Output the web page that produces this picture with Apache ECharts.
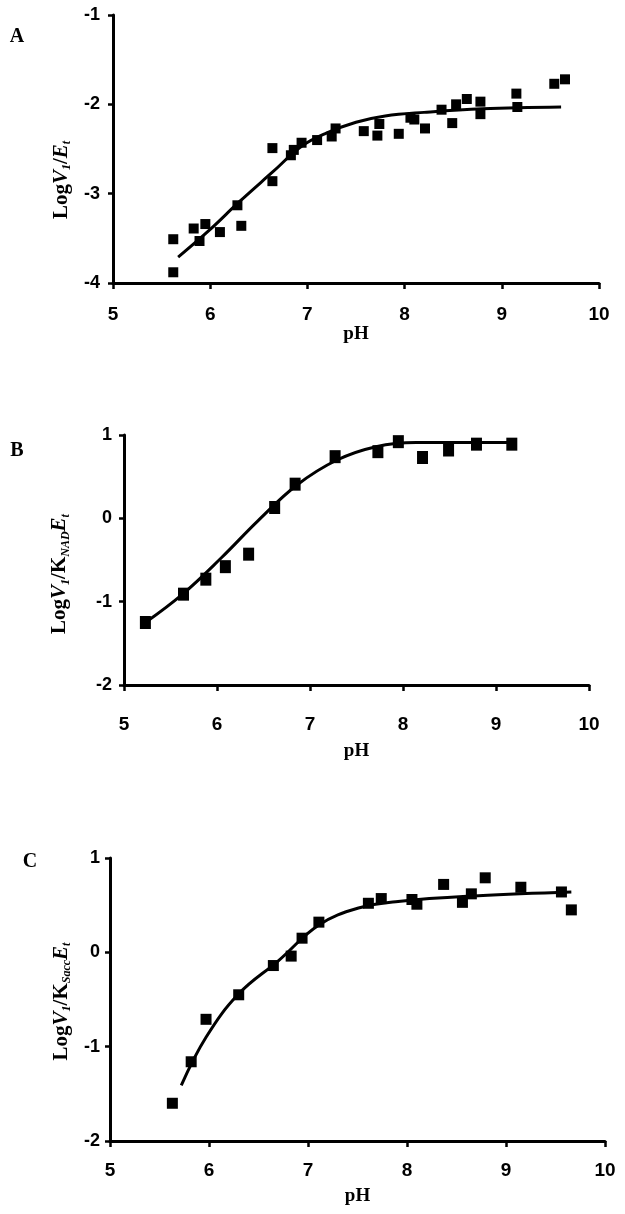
<!DOCTYPE html>
<html><head><meta charset="utf-8">
<script src="https://cdn.jsdelivr.net/npm/echarts@6/dist/echarts.min.js"></script>
<style>html,body{margin:0;padding:0;background:#fff}#c{width:625px;height:1214px}</style>
</head><body><div id="c"></div>
<script>
// ---- data ----
const phTicks = [5, 6, 7, 8, 9, 10];

// Panel A: Log V1/Et vs pH
const aPH  = [5.62,5.62,5.83,5.89,5.95,6.10,6.28,6.32,6.64,6.64,6.83,6.86,6.94,7.10,7.25,7.29,7.58,7.72,7.74,7.94,8.06,8.10,8.21,8.38,8.49,8.53,8.64,8.78,8.78,9.15,9.16,9.54,9.65];
const aVal = [-3.51,-3.88,-3.39,-3.53,-3.34,-3.43,-3.13,-3.36,-2.49,-2.86,-2.57,-2.51,-2.43,-2.40,-2.36,-2.27,-2.30,-2.35,-2.22,-2.33,-2.15,-2.17,-2.27,-2.06,-2.21,-2.00,-1.94,-1.97,-2.11,-1.88,-2.03,-1.77,-1.72];
const aFitPH  = [5.67,6.00,6.30,6.64,6.94,7.20,7.50,7.80,8.20,8.80,9.61];
const aFitVal = [-3.71,-3.40,-3.09,-2.76,-2.47,-2.32,-2.20,-2.13,-2.09,-2.05,-2.03];

// Panel B: Log V1/K_NAD Et vs pH
const bPH  = [5.23,5.64,5.88,6.09,6.34,6.62,6.84,7.27,7.73,7.95,8.21,8.49,8.79,9.17];
const bVal = [-1.25,-0.91,-0.73,-0.58,-0.43,0.13,0.41,0.74,0.80,0.92,0.73,0.82,0.89,0.89];
const bFitPH  = [5.23,5.64,6.05,6.44,6.86,7.29,7.71,8.14,9.20];
const bFitVal = [-1.25,-0.90,-0.47,-0.03,0.40,0.70,0.86,0.91,0.91];

// Panel C: Log V1/K_Sacc Et vs pH
const cPH  = [5.63,5.82,5.97,6.30,6.65,6.83,6.94,7.11,7.61,7.74,8.05,8.10,8.37,8.56,8.65,8.79,9.15,9.56,9.66];
const cVal = [-1.60,-1.16,-0.71,-0.45,-0.14,-0.04,0.15,0.32,0.52,0.57,0.56,0.51,0.72,0.53,0.62,0.79,0.69,0.64,0.45];
const cFitPH  = [5.72,5.97,6.30,6.70,7.11,7.51,7.91,8.72,9.66];
const cFitVal = [-1.41,-0.90,-0.44,-0.09,0.29,0.47,0.54,0.60,0.64];

const yRanges = [[-4, -1], [-2, 1], [-2, 1]];
const panelLetters = ['A', 'B', 'C'];

// ---- styling / layout ----
const tickFont = "'Liberation Sans Narrow','Liberation Sans',Arial,sans-serif";
const serif = "'Liberation Serif','DejaVu Serif',serif";
const grids = [
  {left: 113, top: 15,  width: 486, height: 268},
  {left: 124, top: 435, width: 465, height: 250},
  {left: 110, top: 858, width: 495, height: 283}
];
const xLabelMargin = [22, 30, 20];
const xNameGap = [40, 57, 46];
const yNameGap = [38, 52, 35];
const yNamePad = [62, 28, 4];
const yLabelMargin = [13, 12, 10];
const symbolSizes = [[10, 10], [11, 13], [11, 11]];
const letterPos = [[17, 37], [17, 451], [30, 862]];
const yTitles = [
  '{a|Log}{v|V}{s|1}{a|/}{v|E}{s|t}',
  '{a|Log}{v|V}{s|1}{a|/}{a|K}{s|NAD}{v|E}{s|t}',
  '{a|Log}{v|V}{s|1}{a|/}{a|K}{s|Sacc}{v|E}{s|t}'
];
const rich = {
  a: {fontFamily: serif, fontWeight: 'bold', fontSize: 21, color: '#000', lineHeight: 24, verticalAlign: 'middle'},
  v: {fontFamily: serif, fontWeight: 'bold', fontStyle: 'italic', fontSize: 21, color: '#000', lineHeight: 24},
  s: {fontFamily: serif, fontWeight: 'bold', fontStyle: 'italic', fontSize: 12, color: '#000', lineHeight: 12, verticalAlign: 'bottom', padding: [8, 0, 0, 0]}
};

const scatterSets = [[aPH, aVal], [bPH, bVal], [cPH, cVal]];
const fitSets = [[aFitPH, aFitVal], [bFitPH, bFitVal], [cFitPH, cFitVal]];
const zip = (xs, ys) => xs.map((x, i) => [x, ys[i]]);

const xAxes = [], yAxes = [], series = [];
for (let i = 0; i < 3; i++) {
  xAxes.push({
    gridIndex: i, type: 'value', min: phTicks[0], max: phTicks[phTicks.length - 1], interval: 1,
    axisLine: {onZero: false, lineStyle: {color: '#000', width: 3}},
    axisTick: {length: 6, lineStyle: {color: '#000', width: 2.5}},
    axisLabel: {margin: xLabelMargin[i], fontFamily: tickFont, fontWeight: 'bold', fontSize: 19, color: '#000'},
    splitLine: {show: false},
    name: 'pH', nameLocation: 'middle', nameGap: xNameGap[i],
    nameTextStyle: {fontFamily: serif, fontWeight: 'bold', fontSize: 19, color: '#000'}
  });
  yAxes.push({
    gridIndex: i, type: 'value', min: yRanges[i][0], max: yRanges[i][1], interval: 1,
    axisLine: {onZero: false, lineStyle: {color: '#000', width: 3}},
    axisTick: {length: 5, lineStyle: {color: '#000', width: 2.5}},
    axisLabel: {margin: yLabelMargin[i], fontFamily: tickFont, fontWeight: 'bold', fontSize: 18, color: '#000'},
    splitLine: {show: false},
    name: yTitles[i], nameLocation: 'middle', nameRotate: 90, nameGap: yNameGap[i],
    nameTextStyle: {rich: rich, padding: [0, yNamePad[i], 0, 0]}
  });
  series.push({
    type: 'scatter', xAxisIndex: i, yAxisIndex: i, symbol: 'rect', symbolSize: symbolSizes[i],
    itemStyle: {color: '#000', opacity: 1}, data: zip(scatterSets[i][0], scatterSets[i][1]), z: 3
  });
  series.push({
    type: 'line', xAxisIndex: i, yAxisIndex: i, smooth: 0.4, showSymbol: false, symbol: 'none',
    lineStyle: {color: '#000', width: 3}, data: zip(fitSets[i][0], fitSets[i][1]), z: 2
  });
}

const chart = echarts.init(document.getElementById('c'), null, {renderer: 'canvas'});
chart.setOption({
  animation: false,
  backgroundColor: '#fff',
  grid: grids,
  xAxis: xAxes,
  yAxis: yAxes,
  series: series,
  graphic: panelLetters.map((t, i) => ({
    type: 'text', x: letterPos[i][0], y: letterPos[i][1],
    style: {text: t, fontFamily: serif, fontWeight: 'bold', fontSize: 20, fill: '#000', align: 'center', verticalAlign: 'middle'}
  }))
});
</script>
</body></html>
